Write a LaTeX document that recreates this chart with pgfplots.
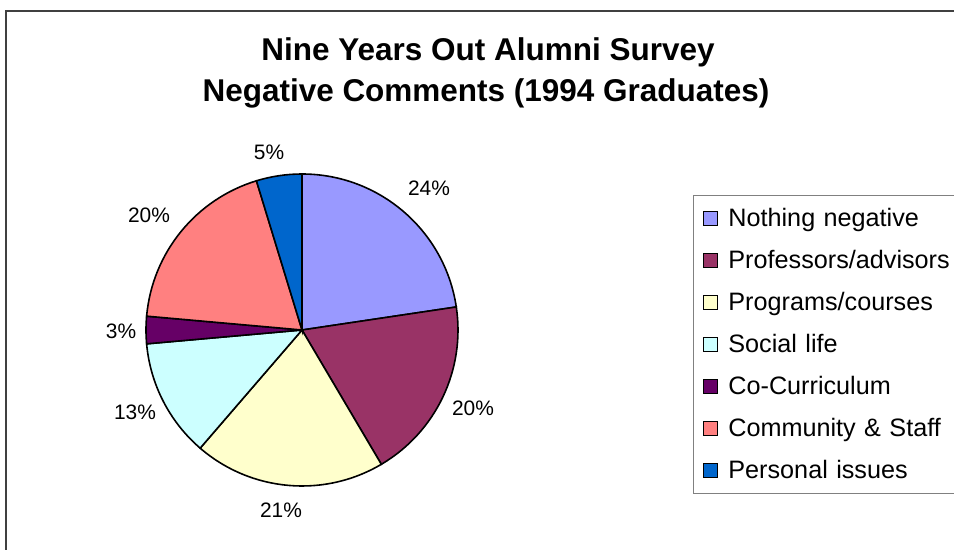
\documentclass[border=0pt]{standalone}
\usepackage{pgfplots}
\pgfplotsset{compat=1.18}
\usepackage{pgfplotstable}
\usepackage{fontspec}
\setmainfont{Liberation Sans}

\definecolor{pieA}{HTML}{9999FF}
\definecolor{pieB}{HTML}{993366}
\definecolor{pieC}{HTML}{FFFFCC}
\definecolor{pieD}{HTML}{CCFFFF}
\definecolor{pieE}{HTML}{660066}
\definecolor{pieF}{HTML}{FF8080}
\definecolor{pieG}{HTML}{0066CC}
\definecolor{framegray}{HTML}{404040}

% slices, clockwise from 12 o'clock; value = label shown on the chart
% lx ly = where the percentage label sits
\pgfplotstableread{
name value col lx ly
{Nothing negative} 24 pieA 429 362
{Professors/advisors} 20 pieB 473 142
{Programs/courses} 21 pieC 281 40
{Social life} 13 pieD 135 138
{Co-Curriculum} 3 pieE 121 219
{Community and Staff} 20 pieF 149 335
{Personal issues} 5 pieG 269 398
}\piedata

\newcommand{\pietotal}{106}
\newcommand{\cx}{302}
\newcommand{\cy}{220}

\begin{document}
\begin{tikzpicture}

% start / end angles of each slice
\gdef\cum{0}
\foreach \i in {0,...,6}{
  \pgfplotstablegetelem{\i}{value}\of\piedata
  \pgfmathsetmacro{\sa}{90-\cum/\pietotal*360}
  \pgfmathsetmacro{\ea}{90-(\cum+\pgfplotsretval)/\pietotal*360}
  \pgfmathsetmacro{\newcum}{\cum+\pgfplotsretval}
  \expandafter\xdef\csname pieS\i\endcsname{\sa}
  \expandafter\xdef\csname pieE\i\endcsname{\ea}
  \expandafter\xdef\csname pieV\i\endcsname{\pgfplotsretval}
  \pgfplotstablegetelem{\i}{col}\of\piedata
  \expandafter\xdef\csname pieC\i\endcsname{\pgfplotsretval}
  \pgfplotstablegetelem{\i}{lx}\of\piedata
  \expandafter\xdef\csname pieX\i\endcsname{\pgfplotsretval}
  \pgfplotstablegetelem{\i}{ly}\of\piedata
  \expandafter\xdef\csname pieY\i\endcsname{\pgfplotsretval}
  \xdef\cum{\newcum}
}

\begin{axis}[
  width=954bp, height=550bp,
  scale only axis,
  hide axis,
  xmin=0, xmax=954, ymin=0, ymax=550,
  enlargelimits=false,
  clip=false,
  legend cell align={left},
  legend image code/.code={\draw[#1] (0bp,-7bp) rectangle (14bp,7bp); \path (24bp,0bp);},
  legend style={
    at={(axis cs:693,355)}, anchor=north west,
    draw=gray, line width=0.8pt,
    font=\fontsize{25.3}{30}\selectfont,
    inner xsep=10bp, inner ysep=11bp,
    row sep=18bp,
    nodes={inner sep=0pt, text height=20bp, text depth=4bp},
    /tikz/every even column/.append style={text width=235bp},
  },
]

\pgfplotsinvokeforeach{0,...,6}{
  \edef\slice{\noexpand\filldraw[fill=\csname pieC#1\endcsname, draw=black, line width=1.6bp]
    (axis cs:\cx,\cy) -- ++(\csname pieS#1\endcsname:156bp)
    arc[start angle=\csname pieS#1\endcsname, end angle=\csname pieE#1\endcsname, radius=156bp] -- cycle;}
  \slice
  \edef\lbl{\noexpand\node[font=\noexpand\fontsize{21}{25}\noexpand\selectfont, inner sep=0pt]
    at (axis cs:\csname pieX#1\endcsname,\csname pieY#1\endcsname) {\csname pieV#1\endcsname\noexpand\%};}
  \lbl
}

\addlegendimage{fill=pieA, draw=black, line width=1pt}\addlegendentry{Nothing negative}
\addlegendimage{fill=pieB, draw=black, line width=1pt}\addlegendentry{Professors/advisors}
\addlegendimage{fill=pieC, draw=black, line width=1pt}\addlegendentry{Programs/courses}
\addlegendimage{fill=pieD, draw=black, line width=1pt}\addlegendentry{Social life}
\addlegendimage{fill=pieE, draw=black, line width=1pt}\addlegendentry{Co-Curriculum}
\addlegendimage{fill=pieF, draw=black, line width=1pt}\addlegendentry{Community \& Staff}
\addlegendimage{fill=pieG, draw=black, line width=1pt}\addlegendentry{Personal issues}

% title
\node[anchor=base, font=\fontsize{31.6}{36}\selectfont\bfseries] at (axis cs:488,489) {Nine Years Out Alumni Survey};
\node[anchor=base, font=\fontsize{31.6}{36}\selectfont\bfseries] at (axis cs:486,448) {Negative Comments (1994 Graduates)};

% chart area frame (left and top edges)
\draw[framegray, line width=1.2bp] (axis cs:6,0) -- (axis cs:6,539) -- (axis cs:960,539);
\end{axis}
\pgfresetboundingbox
\path[use as bounding box] (0,0) rectangle (954bp,550bp);
\end{tikzpicture}
\end{document}
